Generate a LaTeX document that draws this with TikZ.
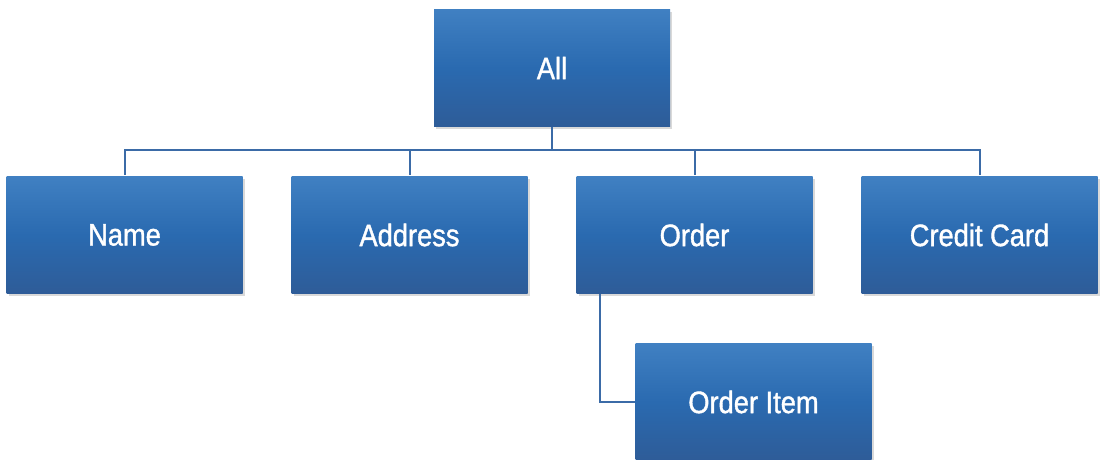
\documentclass[tikz,border=0pt]{standalone}
\usepackage{fontspec}
\setmainfont[FakeStretch=0.88,FakeBold=1.2]{Liberation Sans}
\usetikzlibrary{shadows}
\definecolor{boxtop}{HTML}{4080C2}
\definecolor{boxmid}{HTML}{2A6AB0}
\definecolor{boxbot}{HTML}{2E5C98}
\definecolor{treeline}{HTML}{3B6BA7}

\begin{document}
\begin{tikzpicture}
[x=0.5pt,y=-0.5pt,treeline,line width=1pt,%
  every node/.style={shape=rectangle,minimum width=118pt,minimum height=58.5pt,
    top color=boxtop,bottom color=boxbot,middle color=boxmid,text=white,
    font=\fontsize{15.5}{18}\selectfont,
    drop shadow={opacity=0.3,shadow xshift=1.2pt,shadow yshift=-1.5pt}},
  edge from parent path={(\tikzparentnode.south) -- ++(0,-11.5pt)
    -| (\tikzchildnode.north)}]
\useasboundingbox (0,0) rectangle (1100,460);
\node (all) at (552,68) {All}
  [level distance=83.5pt,sibling distance=142.5pt]
  child {node (name) {Name}}
  child {node (address) {Address}}
  child {node (order) {Order}
    child [xshift=29.5pt,
      edge from parent path={([xshift=12pt]\tikzparentnode.south west)
        |- (\tikzchildnode.west)}]
      {node (item) {Order Item}}
  }
  child {node (card) {Credit Card}};
\end{tikzpicture}
\end{document}
